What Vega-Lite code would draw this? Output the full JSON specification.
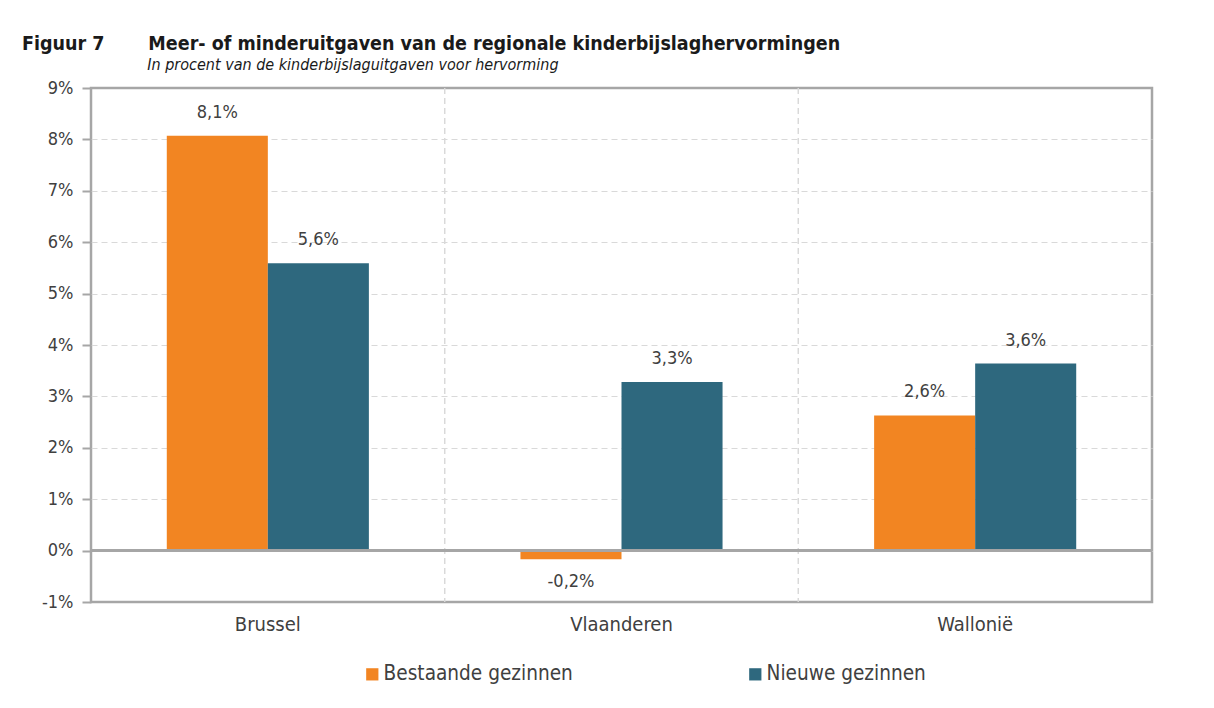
{
  "$schema": "https://vega.github.io/schema/vega-lite/v6.json",
  "width": 1061,
  "height": 514,
  "autosize": {"type": "none"},
  "padding": {"left": 91, "top": 88, "right": 62, "bottom": 106},
  "background": "white",
  "config": {
    "font": "DejaVu Sans Condensed",
    "locale": {"number": {"decimal": ",", "thousands": ".", "grouping": [3], "currency": ["€", ""], "minus": "-"}},
    "view": {"stroke": "#a6a6a6", "strokeWidth": 2.5}
  },
  "title": {
    "text": "Figuur 7\u2003\u2003\u2002Meer- of minderuitgaven van de regionale kinderbijslaghervormingen",
    "subtitle": "\u200B\u2003\u2003\u2003\u2003\u2003\u2003\u2003\u2003\u2002\u2009In procent van de kinderbijslaguitgaven voor hervorming",
    "anchor": "start",
    "frame": "group",
    "dx": -69,
    "offset": 5,
    "fontSize": 19.5,
    "fontWeight": "bold",
    "color": "#1a1a1a",
    "subtitleFontSize": 16,
    "subtitleFontStyle": "italic",
    "subtitleColor": "#1a1a1a",
    "subtitlePadding": 3
  },
  "data": {
    "values": [
      {"regio": "Brussel", "groep": "Bestaande gezinnen", "waarde": 0.0807},
      {"regio": "Brussel", "groep": "Nieuwe gezinnen", "waarde": 0.0559},
      {"regio": "Vlaanderen", "groep": "Bestaande gezinnen", "waarde": -0.0017},
      {"regio": "Vlaanderen", "groep": "Nieuwe gezinnen", "waarde": 0.0328},
      {"regio": "Wallonië", "groep": "Bestaande gezinnen", "waarde": 0.0263},
      {"regio": "Wallonië", "groep": "Nieuwe gezinnen", "waarde": 0.0364}
    ]
  },
  "layer": [
    {
      "mark": {"type": "bar"},
      "encoding": {
        "x": {
          "field": "regio", "type": "nominal", "sort": null,
          "scale": {"paddingInner": 0, "paddingOuter": 0},
          "axis": {
            "title": null, "labelAngle": 0, "labelFontSize": 20, "labelColor": "#404040", "bandPosition": 0.5,
            "labelPadding": 12, "ticks": false, "domain": false, "grid": false
          }
        },
        "xOffset": {"field": "groep", "type": "nominal", "sort": ["Bestaande gezinnen", "Nieuwe gezinnen"], "scale": {"paddingInner": 0, "paddingOuter": 0.75}},
        "y": {
          "field": "waarde", "type": "quantitative",
          "scale": {"domain": [-0.01, 0.09], "nice": false, "zero": false},
          "axis": {
            "title": null, "values": [-0.01, 0, 0.01, 0.02, 0.03, 0.04, 0.05, 0.06, 0.07, 0.08, 0.09],
            "format": ".0%", "labelFontSize": 18, "labelColor": "#404040", "labelPadding": 9,
            "domain": false, "tickColor": "#a6a6a6", "tickWidth": 2, "tickSize": 9,
            "grid": true,
            "gridColor": {"condition": {"test": "datum.value > -0.005 && datum.value < 0.085", "value": "#d9d9d9"}, "value": "transparent"},
            "gridDash": [6, 4], "gridWidth": 1.2
          }
        },
        "color": {
          "field": "groep", "type": "nominal",
          "scale": {"domain": ["Bestaande gezinnen", "Nieuwe gezinnen"], "range": ["#F28522", "#2E687E"]},
          "legend": {
            "title": null, "orient": "none", "legendX": 271, "legendY": 576, "direction": "horizontal",
            "symbolType": "square", "symbolSize": 150, "symbolStrokeWidth": 0, "symbolOpacity": 1,
            "labelFontSize": 20.6, "labelColor": "#404040", "labelOffset": 1, "columnPadding": 172, "labelLimit": 400
          }
        }
      }
    },
    {
      "transform": [{"filter": "datum.regio != 'Wallonië'"}],
      "mark": {"type": "rule", "color": "#d9d9d9", "strokeWidth": 1.2, "strokeDash": [6, 4]},
      "encoding": {
        "x": {
          "field": "regio", "type": "nominal", "sort": null, "bandPosition": 1,
          "axis": {
            "title": null, "labelAngle": 0, "labelFontSize": 20, "labelColor": "#404040", "bandPosition": 0.5,
            "labelPadding": 12, "ticks": false, "domain": false, "grid": false
          }
        }
      }
    },
    {
      "transform": [{"filter": "datum.waarde >= 0"}],
      "mark": {"type": "text", "dy": -23, "baseline": "middle", "fontSize": 18, "color": "#404040"},
      "encoding": {
        "x": {"field": "regio", "type": "nominal", "sort": null},
        "xOffset": {"field": "groep", "type": "nominal", "sort": ["Bestaande gezinnen", "Nieuwe gezinnen"]},
        "y": {"field": "waarde", "type": "quantitative"},
        "text": {"field": "waarde", "type": "quantitative", "format": ".1%"}
      }
    },
    {
      "transform": [{"filter": "datum.waarde < 0"}],
      "mark": {"type": "text", "dy": 23, "baseline": "middle", "fontSize": 18, "color": "#404040"},
      "encoding": {
        "x": {"field": "regio", "type": "nominal", "sort": null},
        "xOffset": {"field": "groep", "type": "nominal", "sort": ["Bestaande gezinnen", "Nieuwe gezinnen"]},
        "y": {"field": "waarde", "type": "quantitative"},
        "text": {"field": "waarde", "type": "quantitative", "format": ".1%"}
      }
    },
    {
      "mark": {"type": "rule", "color": "#a6a6a6", "strokeWidth": 2.5},
      "encoding": {"y": {"datum": 0, "type": "quantitative"}}
    }
  ]
}
